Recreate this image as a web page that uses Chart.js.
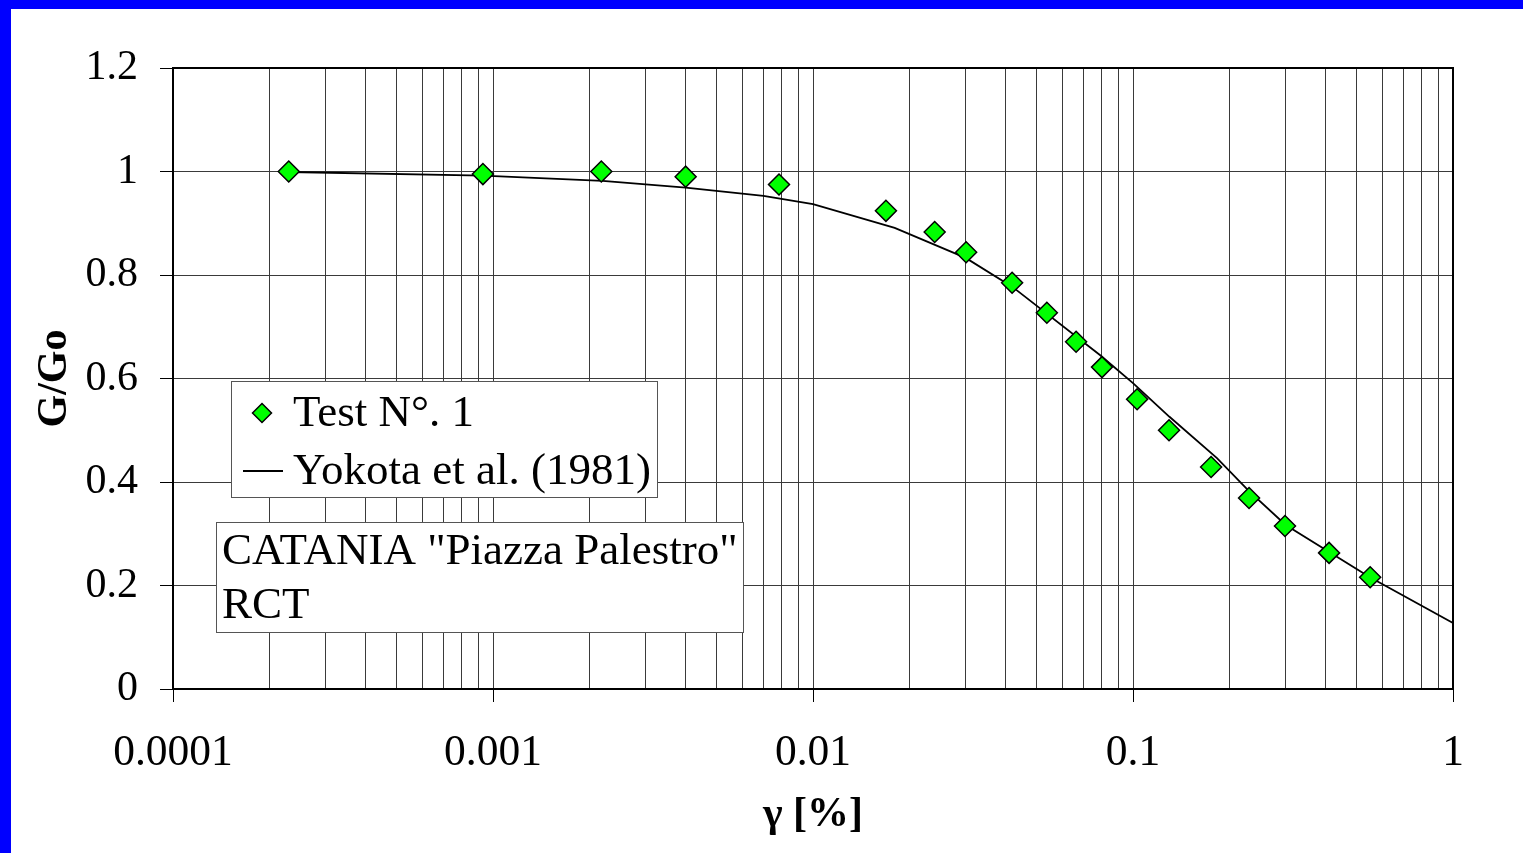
<!DOCTYPE html>
<html>
<head>
<meta charset="utf-8">
<script src="https://cdn.jsdelivr.net/npm/chart.js@4"></script>
<style>
  html, body { margin: 0; padding: 0; background: #fff; }
  #wrap { position: relative; width: 1523px; height: 853px; }
</style>
</head>
<body>
<div id="wrap"><canvas id="myChart" width="1523" height="853"></canvas></div>
<script>
// test points
let testStrain = [0.00023, 0.00093, 0.00218, 0.0040, 0.00783, 0.0169, 0.0240, 0.0301, 0.0419, 0.0538,
    0.0664, 0.080, 0.103, 0.1296, 0.1754, 0.2305, 0.2985, 0.410, 0.551];
let testRatio = [1.0, 0.995, 1.0, 0.99, 0.975, 0.924, 0.883, 0.844, 0.785, 0.727,
    0.671, 0.622, 0.560, 0.500, 0.429, 0.369, 0.315, 0.263, 0.216];

// Yokota et al. (1981) curve
let yokotaStrain = [0.00023, 0.00093, 0.0022, 0.004, 0.007, 0.01, 0.018, 0.03, 0.042, 0.079,
    0.1, 0.13, 0.183, 0.23, 0.3, 0.55, 1];
let yokotaRatio = [0.999, 0.992, 0.982, 0.969, 0.953, 0.937, 0.891, 0.833, 0.777, 0.645,
    0.591, 0.526, 0.446, 0.383, 0.317, 0.216, 0.1275];

let seriesNames = ['Test N°. 1', 'Yokota et al. (1981)'];
let noteLines = ['CATANIA "Piazza Palestro"', 'RCT'];

let xTickValues = [0.0001, 0.001, 0.01, 0.1, 1];
let xTickLabels = ['0.0001', '0.001', '0.01', '0.1', '1'];
let yTickLabels = ['0', '0.2', '0.4', '0.6', '0.8', '1', '1.2'];

const serif = 'Liberation Serif, Times New Roman, serif';

function isMajorX(v) {
    return xTickValues.some(t => Math.abs(t - v) < t * 1e-6);
}

function diamond(ctx, x, y, r) {
    ctx.beginPath();
    ctx.moveTo(x, y - r);
    ctx.lineTo(x + r, y);
    ctx.lineTo(x, y + r);
    ctx.lineTo(x - r, y);
    ctx.closePath();
    ctx.fillStyle = '#00FF00';
    ctx.fill();
    ctx.lineWidth = 1.5;
    ctx.strokeStyle = '#000';
    ctx.stroke();
}

const extras = {
    id: 'extras',
    beforeDatasetsDraw(chart) {
        const ctx = chart.ctx;
        const a = chart.chartArea;
        ctx.save();
        ctx.strokeStyle = '#000';
        ctx.lineWidth = 2;
        ctx.strokeRect(a.left, a.top, a.right - a.left, a.bottom - a.top);
        ctx.restore();
    },
    afterDatasetsDraw(chart) {
        const ctx = chart.ctx;
        ctx.save();
        // legend box
        ctx.fillStyle = '#fff';
        ctx.fillRect(231, 381, 426, 116);
        ctx.strokeStyle = '#555';
        ctx.lineWidth = 1;
        ctx.strokeRect(231.5, 381.5, 426, 116);
        diamond(ctx, 262, 413, 9.5);
        ctx.beginPath();
        ctx.moveTo(243, 471);
        ctx.lineTo(283, 471);
        ctx.lineWidth = 2;
        ctx.strokeStyle = '#000';
        ctx.stroke();
        ctx.fillStyle = '#000';
        ctx.font = '45px ' + serif;
        ctx.textBaseline = 'middle';
        ctx.textAlign = 'left';
        ctx.fillText(seriesNames[0], 293, 414);
        ctx.fillText(seriesNames[1], 293, 472);

        // note box
        ctx.fillStyle = '#fff';
        ctx.fillRect(216, 522, 527, 110);
        ctx.strokeStyle = '#555';
        ctx.lineWidth = 1;
        ctx.strokeRect(216.5, 522.5, 527, 110);
        ctx.fillStyle = '#000';
        ctx.fillText(noteLines[0], 222, 552);
        ctx.fillText(noteLines[1], 222, 606);
        ctx.restore();
    },
    afterDraw(chart) {
        const ctx = chart.ctx;
        ctx.save();
        ctx.fillStyle = '#0000FF';
        ctx.fillRect(0, 0, chart.width, 9);
        ctx.fillRect(0, 0, 11, chart.height);
        ctx.restore();
    }
};

let myChart = document.getElementById('myChart').getContext('2d');

let chart = new Chart(myChart, {
    type: 'scatter',
    data: {
        datasets: [{
                label: seriesNames[0],
                data: testStrain.map((x, i) => ({x: x, y: testRatio[i]})),
                showLine: false,
                pointStyle: 'rectRot',
                pointRadius: 10.5,
                pointBackgroundColor: '#00FF00',
                pointBorderColor: '#000',
                pointBorderWidth: 1.5
            }, {
                label: seriesNames[1],
                data: yokotaStrain.map((x, i) => ({x: x, y: yokotaRatio[i]})),
                showLine: true,
                tension: 0,
                borderColor: '#000',
                borderWidth: 1.8,
                pointRadius: 0
            }]
    },
    options: {
        responsive: false,
        animation: false,
        layout: {padding: {left: 0, top: 68, right: 70, bottom: 0}},
        plugins: {
            legend: {display: false},
            tooltip: {enabled: false}
        },
        scales: {
            x: {
                type: 'logarithmic',
                min: 0.0001,
                max: 1,
                afterBuildTicks: (scale) => {
                    let t = [];
                    for (let e = -4; e < 0; e++) {
                        for (let k = 1; k <= 9; k++) {
                            let v = parseFloat((k * Math.pow(10, e)).toPrecision(10));
                            t.push({value: v, major: k === 1});
                        }
                    }
                    t.push({value: 1, major: true});
                    scale.ticks = t;
                },
                afterFit: (scale) => { scale.height = 164; },
                ticks: {
                    autoSkip: false,
                    maxRotation: 0,
                    padding: 25,
                    color: '#000',
                    font: {family: serif, size: 43.5},
                    callback: (v) => {
                        let i = xTickValues.findIndex(t => Math.abs(t - v) < t * 1e-6);
                        return i >= 0 ? xTickLabels[i] : '';
                    }
                },
                grid: {
                    color: '#3a3a3a',
                    lineWidth: 1,
                    tickLength: 13,
                    tickColor: (c) => (c.tick && isMajorX(c.tick.value)) ? '#000' : 'rgba(0,0,0,0)'
                },
                border: {display: true, color: '#000', width: 2},
                title: {
                    display: true,
                    text: 'γ [%]',
                    color: '#000',
                    font: {family: serif, size: 42, weight: 'bold'},
                    padding: {top: 0, bottom: 13}
                }
            },
            y: {
                type: 'linear',
                min: 0,
                max: 1.2,
                afterFit: (scale) => { scale.width = 173; },
                ticks: {
                    stepSize: 0.2,
                    padding: 22,
                    color: '#000',
                    font: {family: serif, size: 42},
                    callback: (v) => yTickLabels[Math.round(v / 0.2)]
                },
                grid: {
                    color: '#3a3a3a',
                    lineWidth: 1,
                    tickLength: 13,
                    tickColor: '#000'
                },
                border: {display: true, color: '#000', width: 2},
                title: {
                    display: true,
                    text: 'G/Go',
                    color: '#000',
                    font: {family: serif, size: 42, weight: 'bold'},
                    padding: {top: 30, bottom: 0}
                }
            }
        }
    },
    plugins: [extras]
});
</script>
</body>
</html>
